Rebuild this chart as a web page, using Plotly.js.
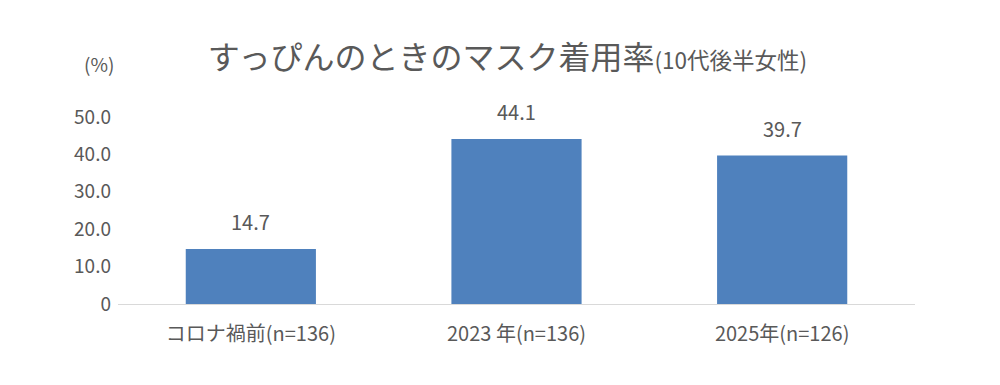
<!DOCTYPE html>
<html><head><meta charset="utf-8">
<script src="https://cdn.plot.ly/plotly-3.0.1.min.js"></script>
<style>body{margin:0;background:#fff}#c{width:1000px;height:385px}</style>
</head><body><div id="c"></div>
<script>
const categories = ["コロナ禍前(n=136)", "2023 年(n=136)", "2025年(n=126)"];
const values = [14.7, 44.1, 39.7];
const yTickVals = [0, 10, 20, 30, 40, 50];
const yTickText = ["0", "10.0", "20.0", "30.0", "40.0", "50.0"];
const titleMain = "すっぴんのときのマスク着用率";
const titleSub = "(10代後半女性)";
const unitLabel = "(%)";

const FONT = "'Noto Sans CJK JP', 'Noto Sans', sans-serif";
const GREY = "#595959";

const annotations = categories.map((c, i) => ({
  x: c, y: values[i], xref: "x", yref: "y",
  text: values[i].toFixed(1), showarrow: false,
  yanchor: "bottom", yshift: 11,
  font: {family: FONT, size: 20, color: GREY}
}));
annotations.push({
  text: unitLabel, xref: "paper", yref: "paper", x: -0.0238, y: 1.0,
  xanchor: "center", yanchor: "middle", yshift: 54, showarrow: false,
  font: {family: FONT, size: 19, color: GREY}
});

Plotly.newPlot("c", [{
  type: "bar", x: categories, y: values,
  marker: {color: "#4F81BD"}, hoverinfo: "none"
}], {
  width: 1000, height: 385,
  margin: {l: 118, r: 85, t: 117, b: 81},
  paper_bgcolor: "#fff", plot_bgcolor: "#fff",
  bargap: 0.51,
  showlegend: false,
  title: {
    text: titleMain + "<span style='font-size:22.5px'>" + titleSub + "</span>",
    font: {family: FONT, size: 32, color: GREY},
    x: 0.5075, xref: "container", xanchor: "center",
    y: 1 - 58/385, yref: "container", yanchor: "middle"
  },
  xaxis: {
    showgrid: false, zeroline: false, showline: true, linecolor: "#d9d9d9", linewidth: 1,
    ticks: "", tickfont: {family: FONT, size: 20, color: GREY}, ticklabelstandoff: 12
  },
  yaxis: {
    range: [0, 50], showgrid: false, zeroline: false, showline: false,
    tickvals: yTickVals, ticktext: yTickText, ticks: "",
    tickfont: {family: FONT, size: 19, color: GREY}, ticklabelstandoff: 6
  },
  annotations: annotations
}, {staticPlot: true});
</script></body></html>
